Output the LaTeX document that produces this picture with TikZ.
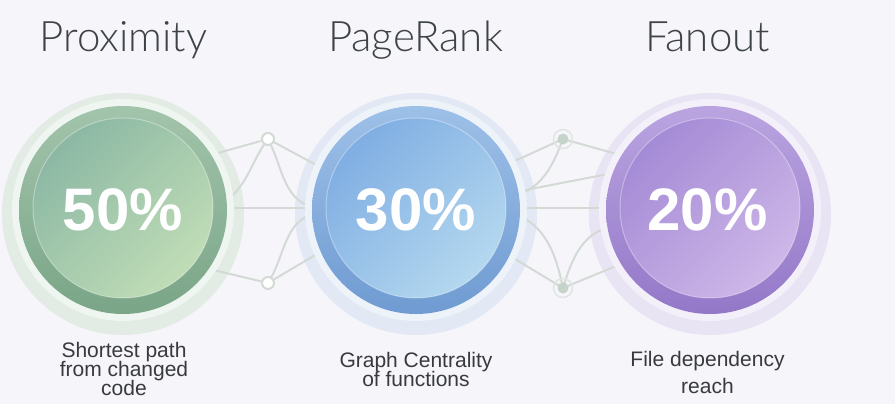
\documentclass[tikz,border=0pt]{standalone}
\usepackage{fontspec}
\setmainfont{Liberation Sans}
\newfontfamily\titlefont{Lato Light}
\definecolor{bgc}{HTML}{F6F6FA}
\definecolor{titlec}{HTML}{3E4249}
\definecolor{capc}{HTML}{383A3E}
\definecolor{netc}{HTML}{D3DAD5}
\definecolor{netfill}{HTML}{C6D3CB}
% green
\definecolor{gglow}{HTML}{E2EBE4}
\definecolor{gpale}{HTML}{EFF5F0}
\definecolor{gringT}{HTML}{A2C4AB}
\definecolor{gringB}{HTML}{7AA587}
\definecolor{ginTL}{HTML}{8CB8A4}
\definecolor{ginBR}{HTML}{C0DDB6}
% blue
\definecolor{bglow}{HTML}{E2E9F5}
\definecolor{bpale}{HTML}{EEF3FA}
\definecolor{bringT}{HTML}{9DC0E7}
\definecolor{bringB}{HTML}{6F9BD2}
\definecolor{binTL}{HTML}{80AEE3}
\definecolor{binBR}{HTML}{B4D8EF}
% purple
\definecolor{pglow}{HTML}{E9E4F4}
\definecolor{ppale}{HTML}{F4F0FA}
\definecolor{pringT}{HTML}{BAA4E0}
\definecolor{pringB}{HTML}{9378C8}
\definecolor{pinTL}{HTML}{A48BD6}
\definecolor{pinBR}{HTML}{CEB7E8}
\pgfdeclareradialshading{glowG}{\pgfpointorigin}{color(0bp)=(gglow); color(40bp)=(gglow); color(50bp)=(bgc)}
\pgfdeclareradialshading{glowB}{\pgfpointorigin}{color(0bp)=(bglow); color(40bp)=(bglow); color(50bp)=(bgc)}
\pgfdeclareradialshading{glowP}{\pgfpointorigin}{color(0bp)=(pglow); color(40bp)=(pglow); color(50bp)=(bgc)}
\begin{document}
\begin{tikzpicture}[x=1pt,y=-1pt,
  netline/.style={draw=netc, line width=2pt},
  opennode/.style={circle, draw=netc, line width=2pt, fill=white, minimum size=12pt, inner sep=0pt},
  fillnode/.style={circle, fill=netfill, minimum size=11pt, inner sep=0pt},
  halo/.style={draw=netc!70!white, line width=1.5pt},
  titletext/.style={anchor=base, text=titlec, font=\titlefont\fontsize{42}{48}\selectfont, inner sep=0pt},
  pcttext/.style={anchor=base, text=white, font=\bfseries\fontsize{60}{66}\selectfont, inner sep=0pt},
  captext/.style={anchor=base, text=capc, font=\fontsize{21}{24}\selectfont, inner sep=0pt},
]
\useasboundingbox (0,0) rectangle (895,404);
\fill[bgc] (0,0) rectangle (895,404);

% centres
\coordinate (cG) at (123,210);
\coordinate (cB) at (416,210);
\coordinate (cP) at (710,210);

% glows
\shade[shading=glowG] (123,214) circle (121);
\shade[shading=glowB] (416,214) circle (121);
\shade[shading=glowP] (710,214) circle (121);

% network between green and blue
\node[opennode] (nA) at (268,139) {};
\node[opennode] (nB) at (268,283) {};
\coordinate (gA1) at (200,158);
\coordinate (bA1) at (322,168);
\coordinate (gA2) at (222,204);
\coordinate (bA2) at (314,207);
\coordinate (gH) at (215,208);
\coordinate (bH) at (316,208);
\coordinate (gB1) at (205,268);
\coordinate (bB1) at (322,251);
\coordinate (bB2) at (314,214);
\draw[netline] (nA) -- (gA1);
\draw[netline] (nA) -- (bA1);
\draw[netline] (nA) .. controls (252,162) and (245,190) .. (gA2);
\draw[netline] (nA) .. controls (282,168) and (285,202) .. (bA2);
\draw[netline] (gH) -- (bH);
\draw[netline] (nB) -- (gB1);
\draw[netline] (nB) -- (bB1);
\draw[netline] (nB) .. controls (284,255) and (286,220) .. (bB2);

% network between blue and purple
\coordinate (bC1) at (508,164);
\coordinate (pC1) at (620,155);
\coordinate (bC2) at (512,196);
\coordinate (bC3) at (510,193);
\coordinate (pC3) at (608,174);
\coordinate (bH2) at (512,208);
\coordinate (pH2) at (612,208);
\coordinate (bD1) at (510,256);
\coordinate (pD1) at (616,266);
\coordinate (bD2) at (512,213);
\coordinate (pD2) at (606,228);
\coordinate (hC) at (563,139);
\coordinate (hD) at (563,288);
\draw[netline] (hC) -- (bC1);
\draw[netline] (hC) -- (pC1);
\draw[netline] (hC) .. controls (553,165) and (542,190) .. (bC2);
\draw[netline] (bC3) -- (pC3);
\draw[netline] (bH2) -- (pH2);
\draw[netline] (hD) -- (bD1);
\draw[netline] (hD) -- (pD1);
\draw[netline] (hD) .. controls (556,255) and (546,224) .. (bD2);
\draw[netline] (hD) .. controls (572,258) and (582,236) .. (pD2);
\draw[halo] (hC) circle (9.5);
\draw[halo] (hD) circle (9.5);
\node[fillnode] (nC) at (hC) {};
\node[fillnode] (nD) at (hD) {};

% green circle
\fill[gpale] (cG) circle (111);
\shade[top color=gringT, bottom color=gringB] (cG) circle (104);
\shade[top color=ginTL, bottom color=ginBR, shading angle=45] (123,208) circle (90);
\draw[white, opacity=0.35, line width=1pt] (123,208) circle (90);
% blue circle
\fill[bpale] (cB) circle (111);
\shade[top color=bringT, bottom color=bringB] (cB) circle (104);
\shade[top color=binTL, bottom color=binBR, shading angle=45] (416,208) circle (90);
\draw[white, opacity=0.35, line width=1pt] (416,208) circle (90);
% purple circle
\fill[ppale] (cP) circle (111);
\shade[top color=pringT, bottom color=pringB] (cP) circle (104);
\shade[top color=pinTL, bottom color=pinBR, shading angle=45] (710,208) circle (90);
\draw[white, opacity=0.35, line width=1pt] (710,208) circle (90);

% percentages
\node[pcttext] (pG) at (123,230) {50\%};
\node[pcttext] (pB) at (416,230) {30\%};
\node[pcttext] (pP) at (707.5,230) {20\%};

% titles
\node[titletext] (tG) at (123.5,52) {Proximity};
\node[titletext] (tB) at (415.5,52) {PageRank};
\node[titletext] (tP) at (707.5,52) {Fanout};

% captions
\node[captext] (cap1a) at (124,357) {Shortest path};
\node[captext] (cap1b) at (124,376) {from changed};
\node[captext] (cap1c) at (124,395) {code};
\node[captext] (cap2a) at (416,367) {Graph Centrality};
\node[captext] (cap2b) at (416,386) {of functions};
\node[captext] (cap3a) at (707.5,366) {File dependency};
\node[captext] (cap3b) at (707.5,393) {reach};
\end{tikzpicture}
\end{document}
